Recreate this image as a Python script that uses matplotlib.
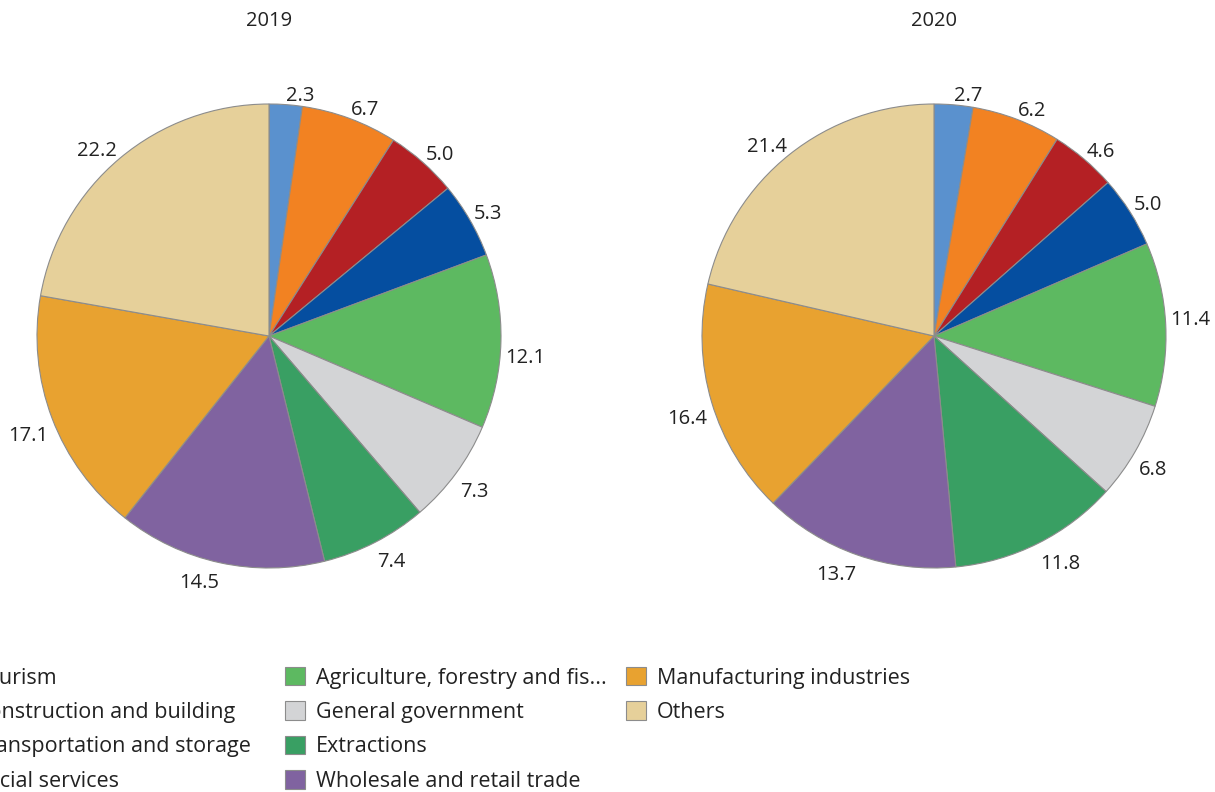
import numpy as np
import matplotlib.pyplot as plt

plt.rcParams['font.family'] = ['Open Sans', 'DejaVu Sans']

# Share of GDP by sector (%)
sectors = ['Tourism', 'Construction and building', 'Transportation and storage',
           'Social services', 'Agriculture, forestry and fis...', 'General government',
           'Extractions', 'Wholesale and retail trade', 'Manufacturing industries', 'Others']
colors = ['#5a91ce', '#f28222', '#b42024', '#054ea0', '#5db961',
          '#d3d4d6', '#399f63', '#8063a0', '#e8a230', '#e6d09a']
values_2019 = [2.3, 6.7, 5.0, 5.3, 12.1, 7.3, 7.4, 14.5, 17.1, 22.2]
values_2020 = [2.7, 6.2, 4.6, 5.0, 11.4, 6.8, 11.8, 13.7, 16.4, 21.4]

W, H = 1215, 792
fig = plt.figure(figsize=(W / 100, H / 100), dpi=100)


def draw_pie(cx, cy, r, values, title):
    # axes placed in pixel terms so both pies get the same size
    ax = fig.add_axes([(cx - r) / W, 1 - (cy + r) / H, 2 * r / W, 2 * r / H])
    wedges, _ = ax.pie(values, colors=colors, startangle=90, counterclock=False,
                       wedgeprops=dict(edgecolor='#8c8c8c', linewidth=0.8))
    ax.set_xlim(-1, 1)
    ax.set_ylim(-1, 1)
    # value labels just outside the rim, pushed away from the pie
    for w, v in zip(wedges, values):
        ang = np.deg2rad((w.theta1 + w.theta2) / 2)
        x, y = 1.02 * np.cos(ang), 1.02 * np.sin(ang)
        ax.annotate('%.1f' % v, (x, y), xytext=(0, -6), textcoords='offset pixels',
                    annotation_clip=False, fontsize=14.5, color='#222222',
                    ha='left' if x > 0 else 'right',
                    va='bottom' if y > 0 else 'top')
    fig.text(cx / W, 1 - 21 / H, title, ha='center', va='center',
             fontsize=14.5, color='#222222')
    return wedges


wedges = draw_pie(269, 336, 232, values_2019, '2019')
draw_pie(934, 336, 232, values_2020, '2020')

# legend in three columns, the first one running off the left edge
columns = [(0, 4, -56), (4, 8, 285), (8, 10, 626)]
for start, stop, x in columns:
    fig.legend(handles=wedges[start:stop], labels=sectors[start:stop],
               loc='upper left', bbox_to_anchor=(x / W, 1 - 667 / H),
               frameon=False, borderpad=0, borderaxespad=0,
               handlelength=0.93, handleheight=0.93, handletextpad=0.5,
               labelspacing=0.6, fontsize=15.5, labelcolor='#222222')

fig.savefig('out.png', dpi=100)
